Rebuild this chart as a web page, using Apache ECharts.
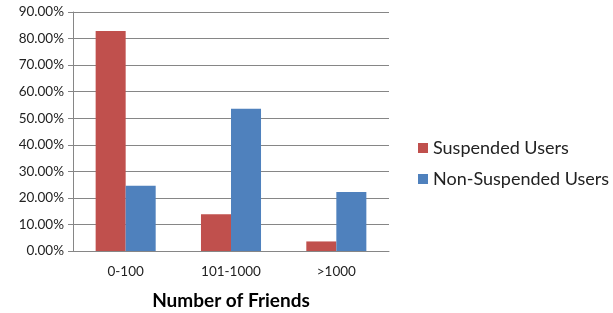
<!DOCTYPE html>
<html>
<head>
<meta charset="utf-8">
<script src="https://cdn.jsdelivr.net/npm/echarts@6/dist/echarts.min.js"></script>
<style>
  html, body { margin: 0; padding: 0; background: #fff; }
  #chart { width: 613px; height: 313px; }
</style>
</head>
<body>
<div id="chart"></div>
<script>
// 数据
const categories = ['0-100', '101-1000', '>1000']
const suspended = [82.8, 13.8, 3.6]
const nonSuspended = [24.6, 53.6, 22.2]

const chart = echarts.init(document.getElementById('chart'))
const font = 'Lato, "Open Sans", sans-serif'

chart.setOption({
  backgroundColor: '#fff',
  animation: false,
  textStyle: { fontFamily: font },
  grid: { left: 73, right: 224, top: 12, bottom: 62, outerBoundsMode: 'none' },
  legend: {
    orient: 'vertical',
    left: 413,
    top: 134,
    itemWidth: 10,
    itemHeight: 10,
    itemGap: 13,
    icon: 'rect',
    textStyle: { fontSize: 18, color: '#222', fontFamily: font },
    data: ['Suspended Users', 'Non-Suspended Users'],
  },
  xAxis: {
    type: 'category',
    data: categories,
    name: 'Number of Friends',
    nameLocation: 'middle',
    nameGap: 40,
    nameTextStyle: { fontSize: 19, fontWeight: 'bold', color: '#000', fontFamily: font },
    axisLine: { lineStyle: { color: '#868686' } },
    axisTick: { show: false },
    axisLabel: { fontSize: 13.5, color: '#222', margin: 14 },
  },
  yAxis: {
    type: 'value',
    min: 0,
    max: 90,
    interval: 10,
    axisLine: { show: true, lineStyle: { color: '#868686' } },
    axisTick: { show: true, length: 5, lineStyle: { color: '#868686' } },
    axisLabel: { fontSize: 13.5, color: '#222', margin: 9, formatter: v => v.toFixed(2) + '%' },
    splitLine: { lineStyle: { color: '#868686' } },
  },
  series: [
    {
      name: 'Suspended Users',
      type: 'bar',
      data: suspended,
      barGap: '0%',
      barCategoryGap: '43%',
      itemStyle: { color: '#C0504D' },
    },
    {
      name: 'Non-Suspended Users',
      type: 'bar',
      data: nonSuspended,
      itemStyle: { color: '#4F81BD' },
    },
  ],
})
</script>
</body>
</html>
